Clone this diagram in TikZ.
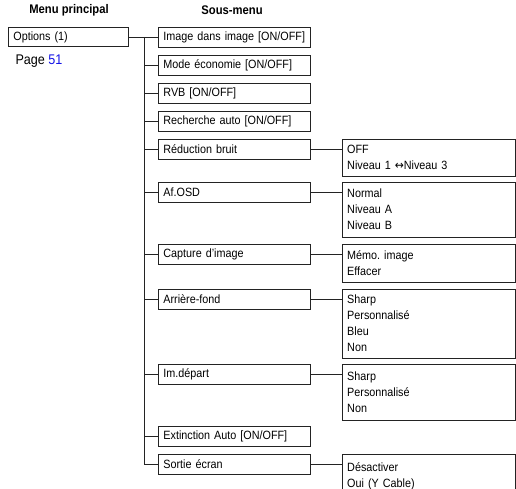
\documentclass[tikz,border=0pt]{standalone}
\usepackage{fontspec}
\setmainfont{Liberation Sans}[FakeStretch=0.9]
\newfontfamily\arrowfont{DejaVu Sans}[FakeStretch=0.9]
\usetikzlibrary{positioning}
\definecolor{menuline}{RGB}{35,35,35}
\definecolor{pageblue}{RGB}{20,20,230}
\frenchspacing

\begin{document}
\begin{tikzpicture}[x=1pt,y=-1pt,line join=miter,
  font=\fontsize{12}{16}\selectfont,
  menubox/.style={draw=menuline,line width=.8pt,anchor=west,align=left,
   font=\fontsize{12}{13}\selectfont,
   inner xsep=5pt,inner ysep=0pt,minimum height=19pt},
  subbox/.style={menubox,text width=142pt,minimum height=20pt},
  choicebox/.style={draw=menuline,line width=.8pt,align=left,
   text width=163pt,inner xsep=5pt,inner ysep=2pt},
  head/.style={font=\fontsize{12.5}{13}\selectfont\bfseries}]
 \useasboundingbox (0,0) rectangle (516,489);
 % titres
 \node[head] (h1) at (69,10) {Menu principal};
 \node[head] (h2) at (232,10) {Sous-menu};
 % menu principal
 \node[menubox,text width=110pt] (main) at (8,37) {Options (1)};
 \node[anchor=west,font=\fontsize{14}{16}\selectfont] (page) at (12,61)
  {Page \textcolor{pageblue}{51}};
 % sous-menu
 \node[subbox] (s1) at (158,37) {Image dans image [ON/OFF]};
 \node[subbox] (s2) at (158,65) {Mode économie [ON/OFF]};
 \node[subbox] (s3) at (158,93) {RVB [ON/OFF]};
 \node[subbox] (s4) at (158,121) {Recherche auto [ON/OFF]};
 \node[subbox] (s5) at (158,149) {Réduction bruit};
 \node[subbox] (s6) at (158,192) {Af.OSD};
 \node[subbox] (s7) at (158,254) {Capture d’image};
 \node[subbox] (s8) at (158,299) {Arrière-fond};
 \node[subbox] (s9) at (158,374) {Im.départ};
 \node[subbox] (s10) at (158,436) {Extinction Auto [ON/OFF]};
 \node[subbox] (s11) at (158,464) {Sortie écran};
 % choix
 \node[choicebox,right=31pt of s5.north east,anchor=north west,
  minimum height=37pt] (r5) {OFF\\Niveau 1 {\arrowfont ↔}Niveau 3};
 \node[choicebox,right=31pt of s6.north east,anchor=north west,
  minimum height=55pt] (r6) {Normal\\Niveau A\\Niveau B};
 \node[choicebox,right=31pt of s7.north east,anchor=north west,
  minimum height=38pt] (r7) {Mémo. image\\Effacer};
 \node[choicebox,right=31pt of s8.north east,anchor=north west,
  minimum height=69pt] (r8) {Sharp\\Personnalisé\\Bleu\\Non};
 \node[choicebox,right=31pt of s9.north east,anchor=north west,
  minimum height=56pt] (r9) {Sharp\\Personnalisé\\Non};
 \node[choicebox,right=31pt of s11.north east,anchor=north west,
  minimum height=44pt] (r11) {Désactiver\\Oui (Y Cable)};
 % liaisons
 \coordinate (trunk) at (144,37);
 \draw[menuline,line width=.8pt] (main.east) -- (s1.west);
 \draw[menuline,line width=.8pt] (trunk) -- (trunk |- s11.west) -- (s11.west);
 \draw[menuline,line width=.8pt]
  (trunk |- s2.west) -- (s2.west) (trunk |- s3.west) -- (s3.west)
  (trunk |- s4.west) -- (s4.west) (trunk |- s5.west) -- (s5.west)
  (trunk |- s6.west) -- (s6.west) (trunk |- s7.west) -- (s7.west)
  (trunk |- s8.west) -- (s8.west) (trunk |- s9.west) -- (s9.west)
  (trunk |- s10.west) -- (s10.west);
 \draw[menuline,line width=.8pt]
  (s5.east) -- (s5.east -| r5.west) (s6.east) -- (s6.east -| r6.west)
  (s7.east) -- (s7.east -| r7.west) (s8.east) -- (s8.east -| r8.west)
  (s9.east) -- (s9.east -| r9.west) (s11.east) -- (s11.east -| r11.west);
\end{tikzpicture}
\end{document}
